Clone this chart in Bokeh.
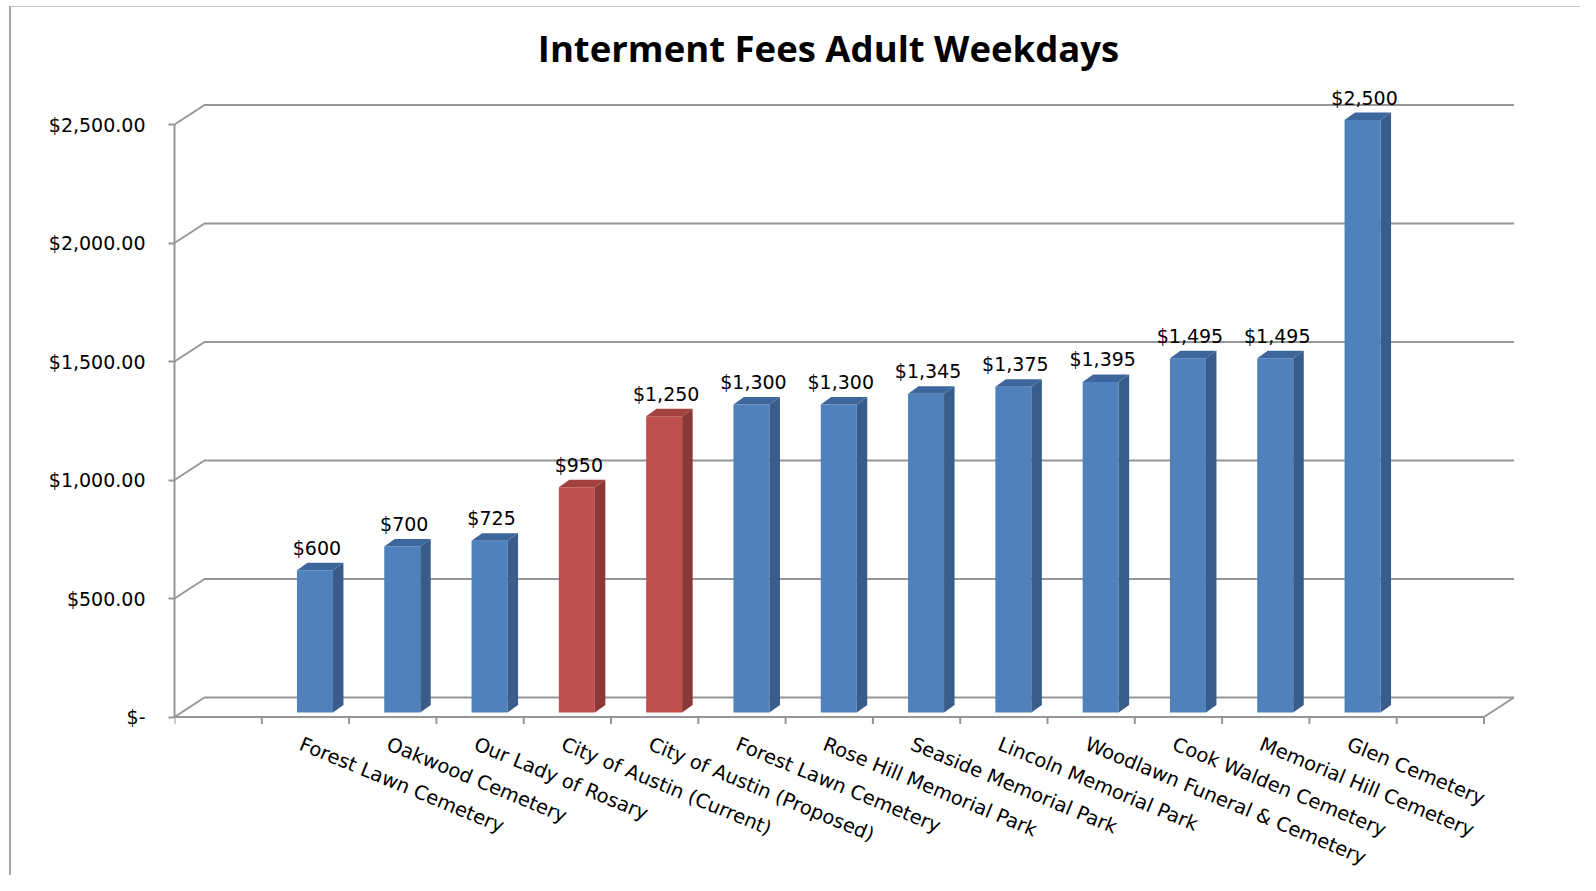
import numpy as np
from bokeh.plotting import figure
from bokeh.models import Range1d, FixedTicker, NumeralTickFormatter
from bokeh.core.properties import value
from bokeh.embed import file_html
from bokeh.resources import INLINE

# ---------------- data ----------------
title_text = "Interment Fees Adult Weekdays"
categories = [
    "Forest Lawn Cemetery",
    "Oakwood Cemetery",
    "Our Lady of Rosary",
    "City of Austin (Current)",
    "City of Austin (Proposed)",
    "Forest Lawn Cemetery",
    "Rose Hill Memorial Park",
    "Seaside Memorial Park",
    "Lincoln Memorial Park",
    "Woodlawn Funeral & Cemetery",
    "Cook Walden Cemetery",
    "Memorial Hill Cemetery",
    "Glen Cemetery",
]
fees = [600, 700, 725, 950, 1250, 1300, 1300, 1345, 1375, 1395, 1495, 1495, 2500]
highlight = [False, False, False, True, True, False, False, False, False, False, False, False, False]
y_ticks = [0, 500, 1000, 1500, 2000, 2500]
zero_label = "$-"

# ---------------- geometry (pixels) ----------------
W, H = 1580, 875
LEFT = 174            # frame left inside figure
SX = 87.3             # px per category slot
SY = 0.237            # px per dollar
ORIGIN_Y = 716.5      # px from figure top to the front floor line
N_SLOTS = 15
FIRST_SLOT = 1


def px_x(px):
    return px / SX


def px_y(px):
    return px / SY


WALL_DX, WALL_DY = px_x(30), px_y(19.5)
BAR_SHIFT, BAR_HALF = px_x(9.5), px_x(18)
BAR_BASE = px_y(4.5)
BAR_DX, BAR_DY = px_x(10.5), px_y(7.5)

BLUE = ("#4F81BD", "#385D8A", "#3D679C")
RED = ("#C0504D", "#8A3735", "#A3413E")
GRID = "#969696"
FONT = "DejaVu Sans"

p = figure(
    width=W, height=H,
    x_range=Range1d(0, (W - LEFT) / SX),
    y_range=Range1d(-(H - ORIGIN_Y) / SY, ORIGIN_Y / SY),
    x_axis_location=None,
    output_backend="svg", toolbar_location=None,
    min_border_left=LEFT, min_border_right=0, min_border_top=0, min_border_bottom=0,
)
p.outline_line_color = None
p.grid.visible = False
p.background_fill_color = None
p.border_fill_color = None
# chart-area border (thin grey lines at left and top), drawn behind the transparent plot
p.styles = {
    "background-color": "white",
    "background-image": "linear-gradient(#A6A6A6, #A6A6A6), linear-gradient(#C8C8C8, #C8C8C8)",
    "background-size": "2px 100%, 100% 1px",
    "background-position": "9px 6px, 9px 6px",
    "background-repeat": "no-repeat",
}

# y axis
ax = p.yaxis[0]
ax.ticker = FixedTicker(ticks=y_ticks)
ax.formatter = NumeralTickFormatter(format="$0,0.00")
ax.major_label_overrides = {0: zero_label}
ax.bounds = (y_ticks[0], y_ticks[-1])
ax.axis_line_color = GRID
ax.axis_line_width = 2
ax.major_tick_line_color = GRID
ax.major_tick_line_width = 2
ax.major_tick_out = 6
ax.major_tick_in = 0
ax.minor_tick_line_color = None
ax.major_label_standoff = 23
ax.major_label_text_font = FONT
ax.major_label_text_font_size = "19px"
ax.major_label_text_color = "black"

# side wall + back wall gridlines
gx, gy = [], []
for t in y_ticks:
    gx.append([0, WALL_DX, N_SLOTS + WALL_DX])
    gy.append([t, t + WALL_DY, t + WALL_DY])
p.multi_line(gx, gy, line_color=GRID, line_width=2)

# floor front edge + right edge
p.line([0, N_SLOTS, N_SLOTS + WALL_DX], [0, 0, WALL_DY], line_color=GRID, line_width=2)
tx = [[i, i] for i in range(N_SLOTS + 1)]
ty = [[0, -px_y(7)] for _ in range(N_SLOTS + 1)]
p.multi_line(tx, ty, line_color=GRID, line_width=2)

# bars
n = len(fees)
slot_c = np.arange(n) + FIRST_SLOT + 0.5
cx = slot_c + BAR_SHIFT
left = cx - BAR_HALF
right = cx + BAR_HALF
bottom = np.full(n, BAR_BASE)
top = np.array(fees, dtype=float) + BAR_BASE
pal = [RED if h else BLUE for h in highlight]

p.quad(left=left, right=right, bottom=bottom, top=top,
       fill_color=[c[0] for c in pal], line_color=None)
side_xs = [[r, r + BAR_DX, r + BAR_DX, r] for r in right]
side_ys = [[b, b + BAR_DY, t + BAR_DY, t] for b, t in zip(bottom, top)]
p.patches(side_xs, side_ys, fill_color=[c[1] for c in pal], line_color=None)
top_xs = [[l, l + BAR_DX, r + BAR_DX, r] for l, r in zip(left, right)]
top_ys = [[t, t + BAR_DY, t + BAR_DY, t] for t in top]
p.patches(top_xs, top_ys, fill_color=[c[2] for c in pal], line_color=None)

# value labels
value_labels = ["${:,.0f}".format(v) for v in fees]
p.text(x=cx + px_x(2), y=top + BAR_DY + px_y(15), text=value_labels,
       text_align="center", text_baseline="alphabetic",
       text_font=value(FONT), text_font_size="19px", text_color="black")

# category labels
p.text(x=slot_c - px_x(0.5), y=np.full(n, -px_y(15.5)), text=categories,
       angle=-22.5, angle_units="deg",
       text_align="left", text_baseline="top",
       text_font=value(FONT), text_font_size="19.5px", text_color="black")

# title
p.text(x=[px_x(828 - LEFT)], y=[px_y(ORIGIN_Y - 47)], text=[title_text],
       text_align="center", text_baseline="alphabetic",
       text_font=value("Open Sans"), text_font_style="bold",
       text_font_size="36.5px", text_color="black")

open("out.html", "w").write(file_html(p, INLINE))
